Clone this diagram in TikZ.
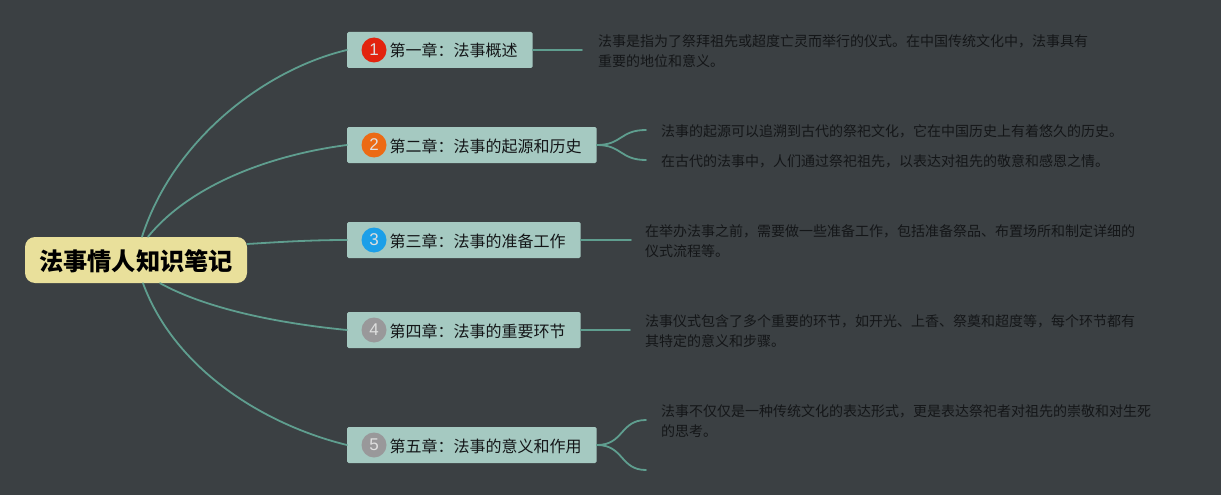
\documentclass[tikz,border=0pt]{standalone}
\usepackage{fontspec}
\setmainfont{Noto Sans CJK SC}
\newfontfamily\numfont{Liberation Sans}
\newcommand{\dou}{\char"FF0C\relax}
\newcommand{\mao}{\char"FF1A\relax}
\definecolor{bgc}{HTML}{3B4043}
\definecolor{boxc}{HTML}{A5C9C1}
\definecolor{rootc}{HTML}{E9E09B}
\definecolor{linec}{HTML}{5F9E8F}
\definecolor{txtc}{HTML}{141618}
\definecolor{desc}{HTML}{141618}
\definecolor{bred}{HTML}{E2230E}
\definecolor{borange}{HTML}{EC6A14}
\definecolor{bblue}{HTML}{1C9FE8}
\definecolor{bgray}{HTML}{99989A}
\tikzset{
  rootbox/.style={fill=rootc,rounded corners=10pt,minimum width=222pt,minimum height=46pt,inner sep=0pt,font=\fontsize{24.2}{28}\selectfont\bfseries,text=black,text height=22pt,text depth=2pt},
  chapbox/.style={fill=boxc,rounded corners=1.5pt,anchor=west,minimum height=36pt,inner xsep=0pt,inner ysep=0pt,font=\fontsize{16}{20}\selectfont,text=txtc,text height=15pt,text depth=1pt},
  badge/.style={circle,minimum size=25pt,inner sep=0pt,font=\numfont\fontsize{17}{20}\selectfont,text=white!75!gray},
  descnode/.style={anchor=west,align=left,inner sep=0pt,font=\fontsize{14}{20}\selectfont,text=desc},
  link/.style={draw=linec,line width=1.8pt,line cap=round}
}
\newcommand{\chap}[1]{\hspace*{42.5pt}#1\hspace*{15pt}}
\begin{document}
\begin{tikzpicture}[x=1pt,y=-1pt]
\fill[bgc] (0,0) rectangle (1221,495);
\useasboundingbox (0,0) rectangle (1221,495);

\node[rootbox] (root) at (136,260) {法事情人知识笔记};

\node[chapbox] (b1) at (347,50) {\chap{第一章\mao{}法事概述}};
\node[chapbox] (b2) at (347,145) {\chap{第二章\mao{}法事的起源和历史}};
\node[chapbox] (b3) at (347,240) {\chap{第三章\mao{}法事的准备工作}};
\node[chapbox] (b4) at (347,330) {\chap{第四章\mao{}法事的重要环节}};
\node[chapbox] (b5) at (347,445) {\chap{第五章\mao{}法事的意义和作用}};

\node[badge,fill=bred] (n1) at (374,50) {1};
\node[badge,fill=borange] (n2) at (374,145) {2};
\node[badge,fill=bblue] (n3) at (374,240) {3};
\node[badge,fill=bgray] (n4) at (374,330) {4};
\node[badge,fill=bgray] (n5) at (374,445) {5};

\node[descnode] (d1) at (598,51.5) {法事是指为了祭拜祖先或超度亡灵而举行的仪式。在中国传统文化中\dou{}法事具有\\重要的地位和意义。};
\node[descnode] (d2a) at (661,131.5) {法事的起源可以追溯到古代的祭祀文化\dou{}它在中国历史上有着悠久的历史。};
\node[descnode] (d2b) at (661,161.5) {在古代的法事中\dou{}人们通过祭祀祖先\dou{}以表达对祖先的敬意和感恩之情。};
\node[descnode] (d3) at (645,241.5) {在举办法事之前\dou{}需要做一些准备工作\dou{}包括准备祭品、布置场所和制定详细的\\仪式流程等。};
\node[descnode] (d4) at (645,331.5) {法事仪式包含了多个重要的环节\dou{}如开光、上香、祭奠和超度等\dou{}每个环节都有\\其特定的意义和步骤。};
\node[descnode] (d5) at (661,421.5) {法事不仅仅是一种传统文化的表达形式\dou{}更是表达祭祀者对祖先的崇敬和对生死\\的思考。};

\coordinate (r1) at ([xshift=6pt]root.north);
\coordinate (r2) at ([xshift=12pt]root.north);
\coordinate (r3) at ([yshift=16pt]root.east);
\coordinate (r4) at ([xshift=24pt]root.south);
\coordinate (r5) at ([xshift=7pt]root.south);
\coordinate (e1) at (582,50);
\coordinate (e2a) at (646,130);
\coordinate (e2b) at (646,160);
\coordinate (e3) at (631,240);
\coordinate (e4) at (630,330);
\coordinate (e5a) at (646,420);
\coordinate (e5b) at (646,470);

\path[link] (r1) .. controls (175,135) and (270,68) .. (b1.west);
\path[link] (r2) .. controls (190,185) and (270,155) .. (b2.west);
\path[link] (r3) .. controls (280,242) and (310,240) .. (b3.west);
\path[link] (r4) .. controls (205,308) and (275,323) .. (b4.west);
\path[link] (r5) .. controls (175,370) and (265,425) .. (b5.west);

\path[link] (b1.east) -- (e1);
\path[link] (b2.east) .. controls (622,145) and (620,130) .. (e2a);
\path[link] (b2.east) .. controls (622,145) and (620,160) .. (e2b);
\path[link] (b3.east) -- (e3);
\path[link] (b4.east) -- (e4);
\path[link] (b5.east) .. controls (624,445) and (620,420) .. (e5a);
\path[link] (b5.east) .. controls (624,445) and (620,470) .. (e5b);
\end{tikzpicture}
\end{document}
